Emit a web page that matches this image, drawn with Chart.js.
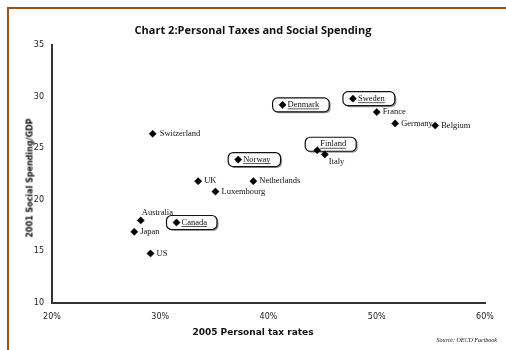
<!DOCTYPE html>
<html>
<head>
<meta charset="utf-8">
<script src="https://cdn.jsdelivr.net/npm/chart.js@4.4.1/dist/chart.umd.min.js"></script>
<style>
  body { margin: 0; background: #fff; }
  #wrap { position: relative; width: 506px; height: 350px; overflow: hidden; background: #fff; }
  #frame { position: absolute; left: 7px; top: 7px; right: -10px; bottom: -10px;
           border-left: 2.5px solid #9f4f1a; border-top: 2.5px solid #9f4f1a; }
  #chart { position: absolute; left: 0; top: 0; }
  .txt { position: absolute; color: #111; white-space: nowrap; }
  #title { left: 0; width: 506px; top: 22px; text-align: center;
           font: bold 11px "Open Sans", sans-serif; }
  #xtitle { left: 53px; width: 400px; top: 327px; text-align: center;
            font: bold 9px "DejaVu Sans", sans-serif; }
  #ytitle { left: 30px; top: 178px; transform: translate(-50%, -50%) rotate(-90deg);
            font: bold 8px "DejaVu Sans", sans-serif; }
  #source { right: 9px; top: 337px; font: italic 6px "Liberation Serif", serif; }
</style>
</head>
<body>
<div id="wrap">
  <div id="frame"></div>
  <canvas id="chart" width="506" height="350"></canvas>
  <div class="txt" id="title">Chart 2:Personal Taxes and Social Spending</div>
  <div class="txt" id="xtitle">2005 Personal tax rates</div>
  <div class="txt" id="ytitle">2001 Social Spending/GDP</div>
  <div class="txt" id="source">Source: OECD Factbook</div>
</div>
<script>
// --------- Data --------
const countries = ['Switzerland', 'Denmark', 'Sweden', 'France', 'Germany', 'Belgium', 'Finland', 'Italy',
                   'Norway', 'UK', 'Netherlands', 'Luxembourg', 'Australia', 'Canada', 'Japan', 'US'];
const taxRates = [29.3, 41.3, 47.8, 50.0, 51.7, 55.4, 44.5, 45.2, 37.2, 33.5, 38.6, 35.1, 28.2, 31.5, 27.6, 29.1];
const socialSpending = [26.4, 29.2, 29.8, 28.5, 27.4, 27.2, 24.8, 24.4, 23.9, 21.8, 21.8, 20.8, 18.0, 17.8, 16.9, 14.8];
const xTicks = [20, 30, 40, 50, 60];
const yTicks = [10, 15, 20, 25, 30, 35];

// label placement (offset of text start / middle from the marker), boxed ones are underlined
const labelPlace = {
    Switzerland: { dx: 7, dy: 0 },
    Denmark: { dx: 5, dy: 0, box: true },
    Sweden: { dx: 5, dy: 0, box: true },
    France: { dx: 6, dy: 0 },
    Germany: { dx: 6, dy: 0 },
    Belgium: { dx: 6, dy: 0 },
    Finland: { dx: 3, dy: -6, box: true },
    Italy: { dx: 4, dy: 7 },
    Norway: { dx: 5, dy: 0, box: true },
    UK: { dx: 6, dy: 0 },
    Netherlands: { dx: 6, dy: 0 },
    Luxembourg: { dx: 6, dy: 0 },
    Australia: { dx: 1, dy: -8 },
    Canada: { dx: 5, dy: 0, box: true },
    Japan: { dx: 6, dy: 0 },
    US: { dx: 6, dy: 0 }
};

const points = taxRates.map((x, i) => ({ x: x, y: socialSpending[i] }));

// --------- Labels plugin --------
const roundRect = (ctx, x, y, w, h, r) => {
    ctx.beginPath();
    ctx.moveTo(x + r, y);
    ctx.arcTo(x + w, y, x + w, y + h, r);
    ctx.arcTo(x + w, y + h, x, y + h, r);
    ctx.arcTo(x, y + h, x, y, r);
    ctx.arcTo(x, y, x + w, y, r);
    ctx.closePath();
};

const pointLabels = {
    id: 'pointLabels',
    beforeDatasetsDraw(chart) {
        const ctx = chart.ctx;
        const meta = chart.getDatasetMeta(0);
        ctx.save();
        ctx.font = '8.5px "Liberation Serif", serif';
        ctx.textBaseline = 'middle';
        ctx.fillStyle = '#111';
        // plain labels first, then boxed ones on top
        [false, true].forEach(boxed => {
            countries.forEach((name, i) => {
                const p = labelPlace[name];
                if (!!p.box !== boxed) return;
                const el = meta.data[i];
                const tx = el.x + p.dx;
                const ty = el.y + p.dy;
                const w = ctx.measureText(name).width;
                if (boxed) {
                    const bx = tx - 15, by = ty - 7, bw = w + 25, bh = 14;
                    ctx.fillStyle = '#9a9a9a';
                    roundRect(ctx, bx + 1.5, by + 1.5, bw, bh, 5);
                    ctx.fill();
                    ctx.fillStyle = '#fff';
                    roundRect(ctx, bx, by, bw, bh, 5);
                    ctx.fill();
                    ctx.strokeStyle = '#111';
                    ctx.lineWidth = 1.2;
                    ctx.stroke();
                    ctx.fillStyle = '#111';
                }
                ctx.fillText(name, tx, ty);
                if (boxed) {
                    ctx.beginPath();
                    ctx.lineWidth = 0.7;
                    ctx.moveTo(tx, ty + 4);
                    ctx.lineTo(tx + w, ty + 4);
                    ctx.stroke();
                }
            });
        });
        ctx.restore();
    }
};

// --------- Chart --------
const ctx = document.getElementById('chart').getContext('2d');
const scatterChart = new Chart(ctx, {
    type: 'scatter',
    data: {
        datasets: [{
            label: '2001 Social Spending/GDP',
            data: points,
            pointStyle: 'rectRot',
            pointRadius: 3.6,
            pointHoverRadius: 3.6,
            backgroundColor: '#000',
            borderColor: '#000',
            borderWidth: 0.5
        }]
    },
    options: {
        responsive: false,
        animation: false,
        devicePixelRatio: 1,
        layout: { padding: { left: 0, top: 45, right: 21, bottom: 0 } },
        plugins: {
            legend: { display: false },
            tooltip: { enabled: false }
        },
        scales: {
            x: {
                type: 'linear',
                min: xTicks[0],
                max: xTicks[xTicks.length - 1],
                afterFit: scale => { scale.height = 47; },
                afterBuildTicks: scale => { scale.ticks = xTicks.map(v => ({ value: v })); },
                grid: { display: false, drawTicks: false },
                border: { display: true, color: '#333', width: 2 },
                ticks: {
                    padding: 9,
                    color: '#222',
                    font: { family: 'DejaVu Sans', size: 8 },
                    callback: v => v + '%'
                }
            },
            y: {
                min: yTicks[0],
                max: yTicks[yTicks.length - 1],
                afterFit: scale => { scale.width = 52; },
                afterBuildTicks: scale => { scale.ticks = yTicks.map(v => ({ value: v })); },
                grid: { display: false, drawTicks: false },
                border: { display: true, color: '#333', width: 2 },
                ticks: {
                    padding: 8,
                    color: '#222',
                    font: { family: 'DejaVu Sans', size: 8 }
                }
            }
        }
    },
    plugins: [pointLabels]
});
</script>
</body>
</html>
